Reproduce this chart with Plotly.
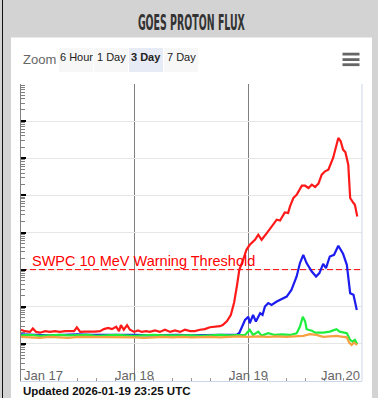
import pandas as pd
import plotly.graph_objects as go

# ---------------- data (hours since 2026-01-17 00:00 UTC, flux in pfu) ----------------
START = "2026-01-17 00:00"
END = "2026-01-20 00:00"
THRESHOLD = 10

red_hours = [0, 0.8, 1.9, 2.5, 3.2, 4.0, 5.1, 6.1, 7.2, 8.2,
             9.3, 10.3, 11.2, 11.8, 12.5, 13.5, 14.6, 15.6, 16.7, 17.5,
             18.4, 19.2, 20.1, 20.7, 21.1, 21.7, 22.4, 23.0, 23.9, 24.7,
             25.5, 26.4, 27.2, 28.3, 29.3, 30.4, 31.5, 32.5, 33.6, 34.6,
             35.7, 36.7, 37.8, 38.8, 39.9, 41.0, 42.0, 42.6, 43.5, 44.3,
             45.0, 45.6, 46.1, 46.9, 47.6, 48.3, 49.4, 50.1, 50.8, 51.9,
             52.9, 54.0, 54.7, 55.7, 56.4, 56.8, 57.5, 58.2, 59.3, 60.0,
             60.7, 61.4, 62.1, 62.8, 63.5, 64.2, 64.9, 65.9, 67.0, 67.5,
             68.0, 68.5, 69.1, 69.5, 70.2, 70.5, 71.0]
red_flux = [0.24, 0.22, 0.21, 0.26, 0.21, 0.20, 0.22, 0.21, 0.22, 0.21,
            0.22, 0.215, 0.22, 0.28, 0.21, 0.215, 0.21, 0.215, 0.22, 0.25,
            0.27, 0.25, 0.29, 0.22, 0.32, 0.24, 0.32, 0.24, 0.21, 0.23,
            0.21, 0.22, 0.21, 0.23, 0.21, 0.24, 0.21, 0.23, 0.21, 0.24,
            0.22, 0.22, 0.24, 0.25, 0.28, 0.29, 0.30, 0.32, 0.41, 0.60,
            1.3, 3.7, 9.9, 18.4, 34.2, 46.7, 63.7, 86.9, 63.7, 96.6,
            146, 221, 211, 347, 335, 505, 849, 1040, 1820, 1820,
            1580, 1940, 1680, 2070, 3610, 4440, 4930, 10200, 35300, 28600,
            17100, 14500, 6730, 849, 622, 561, 271]

blue_hours = [0, 3, 6, 9, 12, 15, 18, 21, 24, 27,
              30, 33, 36, 39, 42, 45.5, 46.1, 47.3, 48.0, 48.3,
              49.0, 49.6, 50.5, 51.0, 51.5, 52.2, 52.9, 54.0, 55.0, 56.1,
              57.1, 58.2, 58.9, 59.6, 60.3, 61.4, 62.3, 63.0, 63.8, 64.4,
              65.2, 66.1, 67.0, 68.0, 68.8, 69.5, 70.2, 70.9]
blue_flux = [0.18, 0.175, 0.17, 0.175, 0.18, 0.175, 0.175, 0.18, 0.175, 0.17,
             0.175, 0.175, 0.17, 0.175, 0.175, 0.175, 0.197, 0.44, 0.54, 0.36,
             0.60, 0.40, 0.67, 0.60, 1.01, 1.25, 1.12, 1.38, 1.60, 1.88,
             2.85, 6.52, 15.0, 25.1, 15.0, 8.9, 6.52, 8.05, 14.3, 11.0,
             22.6, 25.1, 43.9, 26.7, 13.5, 2.32, 2.09, 0.82]

green_hours = [0, 2, 4, 6, 8, 10, 12, 14, 16, 18,
               20, 22, 24, 26, 28, 30, 32, 34, 36, 38,
               40, 42, 44, 46, 47.3, 48.3, 49.0, 50.1, 50.8, 52.2,
               53.6, 55.1, 56.8, 58.2, 58.9, 59.5, 60.0, 60.3, 61.4, 62.1,
               63.8, 65.2, 66.6, 67.3, 68.8, 69.5, 70.0, 70.5, 71.0]
green_flux = [0.17, 0.175, 0.165, 0.17, 0.175, 0.17, 0.17, 0.175, 0.165, 0.17,
              0.175, 0.17, 0.165, 0.17, 0.175, 0.17, 0.17, 0.175, 0.17, 0.165,
              0.17, 0.175, 0.17, 0.175, 0.174, 0.238, 0.174, 0.214, 0.167, 0.194,
              0.174, 0.18, 0.174, 0.194, 0.292, 0.54, 0.40, 0.248, 0.227, 0.201,
              0.201, 0.214, 0.248, 0.214, 0.194, 0.128, 0.115, 0.128, 0.0995]

orange_hours = [0, 2, 4, 6, 8, 10, 12, 14, 16, 18,
                20, 22, 24, 26, 28, 30, 32, 34, 36, 38,
                40, 42, 44, 46, 48, 50, 52, 54, 56, 58,
                59.6, 61.0, 62.4, 63.8, 65.2, 66.6, 68.0, 68.8, 69.3, 69.8,
                70.3, 71.0]
orange_flux = [0.155, 0.15, 0.145, 0.155, 0.15, 0.145, 0.155, 0.155, 0.15, 0.155,
               0.15, 0.155, 0.15, 0.145, 0.15, 0.155, 0.15, 0.155, 0.15, 0.155,
               0.155, 0.15, 0.155, 0.16, 0.155, 0.16, 0.155, 0.16, 0.155, 0.16,
               0.164, 0.182, 0.174, 0.155, 0.16, 0.164, 0.155, 0.150, 0.108, 0.0935,
               0.108, 0.0935]

day_ticks = ["2026-01-17", "2026-01-18", "2026-01-19", "2026-01-20"]
day_labels = ["Jan 17", "Jan 18", "Jan 19", "Jan 20"]
zoom_buttons = ["6 Hour", "1 Day", "3 Day", "7 Day"]
selected_button = "3 Day"

series = [
    (">=10 MeV", red_hours, red_flux, "#ff1a1a"),
    (">=50 MeV", blue_hours, blue_flux, "#1c1cee"),
    (">=100 MeV", green_hours, green_flux, "#1fee3c"),
    (">=500 MeV", orange_hours, orange_flux, "#f7a040"),
]

# ---------------- figure ----------------
W, H = 378, 398
L, R, T, B = 21, 16, 84, 17
PW, PH = W - L - R, H - T - B


def px(xp):
    return (xp - L) / PW


def py(yp):
    return (H - B - yp) / PH


base = pd.Timestamp(START)
fig = go.Figure()

# warning threshold line
fig.add_trace(go.Scatter(x=[START, END], y=[THRESHOLD, THRESHOLD], mode="lines",
                         line=dict(color="#ff0000", width=1, dash="6px,3px"),
                         hoverinfo="skip", showlegend=False))

for name, hrs, flux, col in series:
    t = base + pd.to_timedelta(hrs, unit="h")
    fig.add_trace(go.Scatter(x=t, y=flux, mode="lines", name=name,
                             line=dict(color=col, width=2.2), showlegend=False))

FONT = "Liberation Sans, Arial, Helvetica, sans-serif"

shapes = []
# white panel
shapes.append(dict(type="rect", xref="paper", yref="paper", x0=px(11), x1=px(372),
                   y0=py(H + 5), y1=py(37.5), fillcolor="white", line=dict(width=0), layer="below"))
# left dark edge
shapes.append(dict(type="line", xref="paper", yref="paper", x0=px(2.5), x1=px(2.5),
                   y0=py(H + 5), y1=py(-5), line=dict(color="#111", width=1)))
# right plot border
shapes.append(dict(type="line", xref="paper", yref="paper", x0=1, x1=1, y0=0, y1=1,
                   line=dict(color="#ccd6eb", width=1)))
# zoom buttons
btn_x = [(59, 93), (94, 128), (129, 163), (164, 198)]
annotations = []
for lab, (a, b) in zip(zoom_buttons, btn_x):
    sel = lab == selected_button
    shapes.append(dict(type="rect", xref="paper", yref="paper", x0=px(a), x1=px(b),
                       y0=py(72), y1=py(48), fillcolor="#e6ebf5" if sel else "#f7f7f7",
                       line=dict(width=0), layer="below"))
    annotations.append(dict(text=f"<b>{lab}</b>" if sel else lab, xref="paper", yref="paper",
                            x=px((a + b) / 2), y=py(56.5), showarrow=False,
                            xanchor="center", yanchor="middle",
                            font=dict(family=FONT, size=11, color="#222")))
# hamburger menu
for y0, y1 in [(52.7, 55.5), (58.2, 61), (63.3, 66.1)]:
    shapes.append(dict(type="rect", xref="paper", yref="paper", x0=px(342.5), x1=px(359.5),
                       y0=py(y1), y1=py(y0), fillcolor="#666666", line=dict(width=0)))

annotations.append(dict(text="<b>GOES PROTON FLUX</b>", xref="paper", yref="paper",
                        x=px(191), y=py(22), showarrow=False, xanchor="center", yanchor="middle",
                        font=dict(family="Liberation Sans Narrow, DejaVu Sans Condensed, Liberation Sans",
                                  size=22, color="#333333")))
annotations.append(dict(text="Zoom", xref="paper", yref="paper", x=px(21), y=py(59),
                        showarrow=False, xanchor="left", yanchor="middle",
                        font=dict(family=FONT, size=13, color="#666666")))
annotations.append(dict(text="SWPC 10 MeV Warning Threshold", xref="paper", yref="y",
                        x=px(30), y=1, showarrow=False, xanchor="left", yanchor="bottom",
                        yshift=-1, font=dict(family=FONT, size=14.5, color="#ff0000")))
anchors = ["left", "center", "center", "right"]
for d, lab, anc in zip(day_ticks, day_labels, anchors):
    annotations.append(dict(text=lab, x=d, xref="x", yref="paper", y=py(375.5),
                            showarrow=False, xanchor=anc, yanchor="middle",
                            xshift=1 if anc == "left" else 0,
                            font=dict(family=FONT, size=13, color="#666666")))
annotations.append(dict(text="<b>Updated 2026-01-19 23:25 UTC</b>", xref="paper", yref="paper",
                        x=px(20.5), y=py(390.5), showarrow=False, xanchor="left", yanchor="middle",
                        font=dict(family=FONT, size=11.5, color="#111111")))

fig.update_layout(
    width=W, height=H, margin=dict(l=L, r=R, t=T, b=B, pad=0),
    paper_bgcolor="#d3d3d3", plot_bgcolor="white",
    font=dict(family=FONT, size=12, color="#333"),
    showlegend=False, shapes=shapes, annotations=annotations,
    xaxis=dict(type="date", range=[START, END], tick0=START, dtick=86400000,
               showgrid=True, gridcolor="#7f7f7f", gridwidth=1, showticklabels=False,
               ticks="", showline=True, linecolor="#ccd6eb", linewidth=1, zeroline=False,
               minor=dict(dtick=4 * 3600 * 1000, ticks="inside", ticklen=3,
                          tickcolor="#999999", tickwidth=1, showgrid=False)),
    yaxis=dict(type="log", range=[-2, 6], dtick=1, showgrid=True, gridcolor="#e6e6e6",
               gridwidth=1, showticklabels=False, ticks="inside", ticklen=5, tickwidth=1.5,
               tickcolor="#000000", showline=True, linecolor="#808080", linewidth=1,
               zeroline=False,
               minor=dict(dtick="D1", ticks="inside", ticklen=4, tickcolor="#808080",
                          tickwidth=1, showgrid=False)),
)

post = """
document.documentElement.style.margin = '0';
document.documentElement.style.padding = '0';
document.documentElement.style.overflow = 'hidden';
document.body.style.margin = '0';
document.body.style.padding = '0';
document.body.style.overflow = 'hidden';
var gd = document.getElementById('{plot_id}');
gd.querySelectorAll('text.annotation-text').forEach(function(t){
  if (t.textContent === 'GOES PROTON FLUX') {
    t.setAttribute('textLength', '107');
    t.setAttribute('lengthAdjust', 'spacingAndGlyphs');
  }
});
"""
fig.write_html("out.html", post_script=post, config={"displayModeBar": False})
